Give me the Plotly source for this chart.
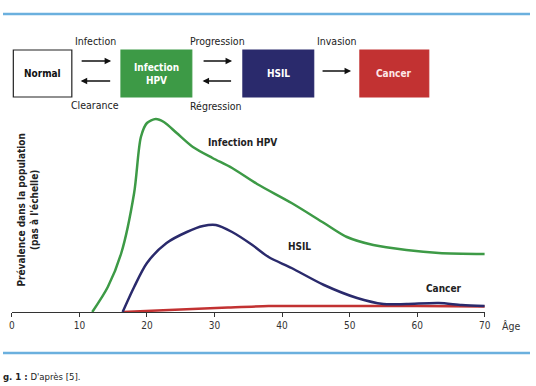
import plotly.graph_objects as go

W, H = 536, 386

# ---- data ----
hpv_age = [11.9, 14.2, 16.2, 18.1, 19.1, 20.0, 21.3, 22.5, 24.4, 26.8, 29.7, 32.6, 36.3, 41.4, 46.2, 49.6, 53.5, 58.4, 63.2, 70.0]
hpv_val = [0, 25, 59, 119, 175, 189, 193, 190, 179, 165, 154, 144, 128, 109, 89, 75, 67, 62, 59, 58]

hsil_age = [16.4, 18.1, 20.0, 22.9, 25.9, 28.3, 30.2, 32.6, 35.6, 38.0, 41.4, 46.2, 51.1, 55.0, 58.4, 63.2, 66.6, 70.0]
hsil_val = [0, 25, 49, 69, 80, 86, 87, 80, 67, 55, 44, 27, 14, 8, 8, 9, 7, 6]

cancer_age = [16.4, 25.0, 32.0, 38.0, 50.0, 60.0, 70.0]
cancer_val = [0, 2.5, 4.5, 6, 6, 6, 5.5]

x_ticks = [0, 10, 20, 30, 40, 50, 60, 70]

GREEN = "#3d9a46"
NAVY = "#2a2a6c"
RED = "#c23232"
BLUE = "#6bb0de"
FONT = "DejaVu Sans Condensed, DejaVu Sans, sans-serif"


def px(x):
    return x / W


def py(y):
    return 1 - y / H


fig = go.Figure()
fig.add_trace(go.Scatter(x=cancer_age, y=cancer_val, mode="lines",
                         line=dict(color=RED, width=2.5, shape="spline", smoothing=0.6)))
fig.add_trace(go.Scatter(x=hsil_age, y=hsil_val, mode="lines",
                         line=dict(color=NAVY, width=2.5, shape="spline", smoothing=0.8)))
fig.add_trace(go.Scatter(x=hpv_age, y=hpv_val, mode="lines",
                         line=dict(color=GREEN, width=2.5, shape="spline", smoothing=0.8)))

shapes = []
annotations = []


def text(t, x, y, size=10, color="#222", xref="paper", yref="paper", **kw):
    d = dict(xref=xref, yref=yref, x=x, y=y, text=t, showarrow=False,
             xanchor="center", yanchor="middle",
             font=dict(family=FONT, size=size, color=color))
    d.update(kw)
    annotations.append(d)


# horizontal blue rules
for yy in (14, 353):
    shapes.append(dict(type="line", xref="paper", yref="paper", x0=0, x1=1, y0=py(yy), y1=py(yy),
                       line=dict(color=BLUE, width=2.5)))

# boxes
boxes = [
    ("Normal", 10.5, 70, "white", "#222", "#111"),
    ("Infection<br>HPV", 120, 192, GREEN, GREEN, "white"),
    ("HSIL", 244, 316, NAVY, NAVY, "white"),
    ("Cancer", 363, 433, RED, RED, "#fde8e8"),
]
for label, x0, x1, fill, border, tc in boxes:
    shapes.append(dict(type="rect", xref="paper", yref="paper", x0=px(x0), x1=px(x1),
                       y0=py(97), y1=py(50), fillcolor=fill, line=dict(color=border, width=1.2)))
    text("<b>" + label + "</b>", px((x0 + x1) / 2), py(73.5), color=tc)

# transition labels
for txt, cx, cy in [("Infection", 94, 40.5), ("Progression", 218, 40.5), ("Invasion", 339, 40.5),
                    ("Clearance", 94, 105), ("Régression", 217, 105.5)]:
    text(txt, px(cx), py(cy), size=10.5)

# arrows (head, tail)
arrows = [((110, 61), (79, 61)), ((79, 81), (110, 81)),
          ((233, 61), (203, 61)), ((203, 81), (233, 81)),
          ((354, 71), (324, 71))]
for (hx, hy), (tx, ty) in arrows:
    annotations.append(dict(xref="paper", yref="paper", x=px(hx), y=py(hy), ax=tx - hx, ay=ty - hy,
                            showarrow=True, arrowhead=2, arrowsize=1, arrowwidth=1.3,
                            arrowcolor="#111", text=""))

# curve labels
for txt, cx, cy in [("Infection HPV", 34.1, 169), ("HSIL", 42.6, 65), ("Cancer", 64.0, 24)]:
    text("<b>" + txt + "</b>", cx, cy, xref="x", yref="y")

# y title
text("<b>Prévalence dans la population<br>(pas à l'échelle)</b>", px(25), py(210), textangle=-90)
# x title
text("Âge", px(517), py(326), size=10.5, color="#333")
# caption
text("<b>g. 1 :</b> D'après [5].", px(-2), py(376), size=9.5, xanchor="left")

fig.update_layout(
    width=W, height=H, margin=dict(l=0, r=0, t=0, b=0),
    paper_bgcolor="white", plot_bgcolor="white", showlegend=False,
    shapes=shapes, annotations=annotations,
    xaxis=dict(domain=[px(9), px(490)], range=[0, 70], tickvals=x_ticks,
               showline=True, linecolor="#333", linewidth=1.3, ticks="outside",
               ticklen=4, tickcolor="#333", tickwidth=1.2, showgrid=False, zeroline=False,
               tickfont=dict(family=FONT, size=10, color="#333"), fixedrange=True),
    yaxis=dict(domain=[py(312), py(112)], range=[0, 200], visible=False, fixedrange=True),
)

fig.write_html(
    "out.html", config={"displayModeBar": False, "responsive": False},
    post_script=(
        "document.documentElement.style.overflow='hidden';"
        "document.body.style.margin='0';document.body.style.overflow='hidden';"
        "Plotly.relayout('{plot_id}', {width: 536, height: 386});"
    ),
)
